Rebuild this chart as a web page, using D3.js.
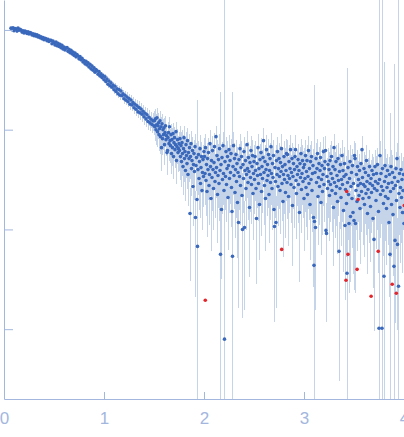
<!DOCTYPE html>
<html>
<head>
<meta charset="utf-8">
<script src="https://cdn.jsdelivr.net/npm/d3@7"></script>
<style>
  body { margin: 0; background: #fff; }
  svg { display: block; }
  .axis path, .axis line { stroke: #a3b7de; }
  .axis text { fill: #a3b7de; font-family: "Liberation Sans", Arial, sans-serif; font-size: 17px; }
</style>
</head>
<body>
<div id="chart"></div>
<script>
// scattering curve, q in nm^-1, intensity as log10(I)
var q = [
  0.07,0.08,0.09,0.1,0.11,0.12,0.13,0.14,0.15,0.16,
  0.17,0.18,0.19,0.2,0.21,0.22,0.23,0.24,0.25,0.26,
  0.27,0.28,0.29,0.3,0.31,0.32,0.33,0.34,0.35,0.36,
  0.37,0.38,0.39,0.4,0.41,0.42,0.43,0.44,0.45,0.46,
  0.47,0.48,0.49,0.5,0.51,0.52,0.53,0.54,0.55,0.56,
  0.57,0.58,0.59,0.6,0.61,0.62,0.63,0.64,0.65,0.66,
  0.67,0.68,0.69,0.7,0.71,0.72,0.73,0.74,0.75,0.76,
  0.77,0.78,0.79,0.8,0.81,0.82,0.83,0.84,0.85,0.86,
  0.87,0.88,0.89,0.9,0.91,0.92,0.93,0.94,0.95,0.96,
  0.97,0.98,0.99,1,1.01,1.02,1.03,1.04,1.05,1.06,
  1.07,1.08,1.09,1.1,1.11,1.12,1.13,1.14,1.15,1.16,
  1.17,1.18,1.19,1.2,1.21,1.22,1.23,1.24,1.25,1.26,
  1.27,1.28,1.29,1.3,1.31,1.32,1.33,1.34,1.35,1.36,
  1.37,1.38,1.39,1.4,1.41,1.42,1.43,1.44,1.45,1.46,
  1.47,1.48,1.49,1.5,
  1.505,1.51,1.515,1.52,1.525,1.53,1.535,1.54,1.545,1.55,
  1.555,1.56,1.565,1.57,1.575,1.58,1.585,1.59,1.595,1.6,
  1.605,1.61,1.615,1.62,1.625,1.63,1.635,1.64,1.645,1.65,
  1.655,1.66,1.665,1.67,1.675,1.68,1.685,1.69,1.695,1.7,
  1.705,1.71,1.715,1.72,1.725,1.73,1.735,1.74,1.745,1.75,
  1.755,1.76,1.765,1.77,1.775,1.78,1.785,1.79,1.795,1.8,
  1.805,1.81,1.815,1.82,1.825,1.83,1.835,1.84,1.845,1.85,
  1.855,1.86,1.865,1.87,1.875,1.88,1.885,1.89,1.895,1.9,
  1.905,1.91,1.915,1.92,1.925,1.93,1.935,1.94,1.945,1.95,
  1.955,1.96,1.965,1.97,1.975,1.98,1.985,1.99,1.995,2,
  2.005,2.01,2.015,2.02,2.025,2.03,2.035,2.04,2.045,2.05,
  2.055,2.06,2.065,2.07,2.075,2.08,2.085,2.09,2.095,2.1,
  2.105,2.11,2.115,2.12,2.125,2.13,2.135,2.14,2.145,2.15,
  2.155,2.16,2.165,2.17,2.175,2.18,2.185,2.19,2.195,2.2,
  2.205,2.21,2.215,2.22,2.225,2.23,2.235,2.24,2.245,2.25,
  2.255,2.26,2.265,2.27,2.275,2.28,2.285,2.29,2.295,2.3,
  2.305,2.31,2.315,2.32,2.325,2.33,2.335,2.34,2.345,2.35,
  2.355,2.36,2.365,2.37,2.375,2.38,2.385,2.39,2.395,2.4,
  2.405,2.41,2.415,2.42,2.425,2.43,2.435,2.44,2.445,2.45,
  2.455,2.46,2.465,2.47,2.475,2.48,2.485,2.49,2.495,2.5,
  2.505,2.51,2.515,2.52,2.525,2.53,2.535,2.54,2.545,2.55,
  2.555,2.56,2.565,2.57,2.575,2.58,2.585,2.59,2.595,2.6,
  2.605,2.61,2.615,2.62,2.625,2.63,2.635,2.64,2.645,2.65,
  2.655,2.66,2.665,2.67,2.675,2.68,2.685,2.69,2.695,2.7,
  2.705,2.71,2.715,2.72,2.725,2.73,2.735,2.74,2.745,2.75,
  2.755,2.76,2.765,2.77,2.775,2.78,2.785,2.79,2.795,2.8,
  2.805,2.81,2.815,2.82,2.825,2.83,2.835,2.84,2.845,2.85,
  2.855,2.86,2.865,2.87,2.875,2.88,2.885,2.89,2.895,2.9,
  2.905,2.91,2.915,2.92,2.925,2.93,2.935,2.94,2.945,2.95,
  2.955,2.96,2.965,2.97,2.975,2.98,2.985,2.99,2.995,3,
  3.005,3.01,3.015,3.02,3.025,3.03,3.035,3.04,3.045,3.05,
  3.055,3.06,3.065,3.07,3.075,3.08,3.085,3.09,3.095,3.1,
  3.105,3.11,3.115,3.12,3.125,3.13,3.135,3.14,3.145,3.15,
  3.155,3.16,3.165,3.17,3.175,3.18,3.185,3.19,3.195,3.2,
  3.205,3.21,3.215,3.22,3.225,3.23,3.235,3.24,3.245,3.25,
  3.255,3.26,3.265,3.27,3.275,3.28,3.285,3.29,3.295,3.3,
  3.305,3.31,3.315,3.32,3.325,3.33,3.335,3.34,3.345,3.35,
  3.355,3.36,3.365,3.37,3.375,3.38,3.385,3.39,3.395,3.4,
  3.405,3.41,3.415,3.42,3.425,3.43,3.435,3.44,3.445,3.45,
  3.455,3.46,3.465,3.47,3.475,3.48,3.485,3.49,3.495,3.5,
  3.505,3.51,3.515,3.52,3.525,3.53,3.535,3.54,3.545,3.55,
  3.555,3.56,3.565,3.57,3.575,3.58,3.585,3.59,3.595,3.6,
  3.605,3.61,3.615,3.62,3.625,3.63,3.635,3.64,3.645,3.65,
  3.655,3.66,3.665,3.67,3.675,3.68,3.685,3.69,3.695,3.7,
  3.705,3.71,3.715,3.72,3.725,3.73,3.735,3.74,3.745,3.75,
  3.755,3.76,3.765,3.77,3.775,3.78,3.785,3.79,3.795,3.8,
  3.805,3.81,3.815,3.82,3.825,3.83,3.835,3.84,3.845,3.85,
  3.855,3.86,3.865,3.87,3.875,3.88,3.885,3.89,3.895,3.9,
  3.905,3.91,3.915,3.92,3.925,3.93,3.935,3.94,3.945,3.95,
  3.955,3.96,3.965,3.97,3.975,3.98,3.985,3.99,3.995,4
];

var logI = [
  0.018,0.002,0.022,-0.008,0.014,0.010,-0.012,0.020,-0.004,0.006,
  -0.002,-0.022,-0.008,-0.030,-0.012,-0.020,-0.036,-0.018,-0.040,-0.026,
  -0.032,-0.050,-0.038,-0.058,-0.045,-0.062,-0.050,-0.070,-0.060,-0.078,
  -0.068,-0.088,-0.076,-0.098,-0.084,-0.090,-0.108,-0.095,-0.115,-0.104,
  -0.105,-0.138,-0.112,-0.128,-0.150,-0.122,-0.158,-0.135,-0.165,-0.145,
  -0.178,-0.155,-0.190,-0.172,-0.200,-0.182,-0.176,-0.215,-0.195,-0.228,
  -0.205,-0.240,-0.222,-0.255,-0.232,-0.270,-0.248,-0.262,-0.290,-0.268,
  -0.300,-0.285,-0.322,-0.308,-0.340,-0.315,-0.352,-0.330,-0.372,-0.345,
  -0.390,-0.362,-0.405,-0.380,-0.425,-0.398,-0.410,-0.445,-0.418,-0.462,
  -0.440,-0.478,-0.458,-0.500,-0.470,-0.518,-0.492,-0.545,-0.512,-0.560,
  -0.530,-0.575,-0.552,-0.600,-0.565,-0.618,-0.590,-0.640,-0.598,-0.655,
  -0.612,-0.660,-0.640,-0.690,-0.655,-0.705,-0.672,-0.720,-0.688,-0.745,
  -0.702,-0.752,-0.728,-0.780,-0.745,-0.795,-0.760,-0.822,-0.778,-0.830,
  -0.792,-0.845,-0.815,-0.870,-0.835,-0.892,-0.850,-0.918,-0.875,-0.932,
  -0.895,-0.948,-0.912,-0.962,
  -0.91,-0.97,-0.89,-1.00,-0.95,-0.88,-1.02,-0.96,-0.93,-1.05,
  -0.99,-0.91,-1.07,-0.97,-1.18,-0.94,-1.09,-1.00,-1.05,-0.98,
  -1.15,-1.03,-0.96,-1.10,-1.06,-1.23,-1.21,-1.08,-1.03,-1.14,
  -0.97,-1.11,-1.16,-1.05,-1.24,-1.10,-1.18,-1.04,-1.27,-1.13,
  -1.08,-1.20,-1.15,-1.02,-1.31,-1.17,-1.10,-1.23,-1.19,-1.14,
  -1.21,-1.09,-1.27,-1.16,-1.32,-1.13,-1.24,-1.37,-1.19,-1.08,
  -1.29,-1.22,-1.41,-1.15,-1.26,-1.34,-1.11,-1.45,-1.23,-1.29,
  -1.18,-1.84,-1.27,-1.14,-1.39,-1.31,-1.21,-1.57,-1.35,-1.24,
  -1.42,-1.17,-1.88,-1.36,-1.28,-1.70,-2.17,-1.40,-1.25,-1.49,
  -1.32,-1.19,-1.54,-1.38,-1.27,-1.61,-1.43,-1.30,-1.47,-1.22,
  -1.27,-1.44,-1.18,-1.51,-1.35,-1.62,-1.29,-1.40,-1.23,-1.56,
  -1.45,-1.14,-1.37,-1.69,-1.31,-1.48,-1.21,-1.40,-1.59,-1.33,
  -1.17,-1.52,-1.43,-1.07,-1.38,-1.26,-1.65,-1.46,-1.30,-1.54,
  -1.19,-1.41,-2.25,-1.35,-1.80,-1.28,-1.50,-1.16,-1.44,-1.61,
  -3.10,-1.32,-1.47,-1.22,-1.55,-1.39,-1.27,-1.68,-1.36,-1.20,
  -1.49,-1.31,-1.43,-1.24,-1.58,-1.82,-2.27,-1.37,-1.16,-1.46,
  -1.29,-1.63,-1.40,-1.25,-1.52,-1.34,-1.73,-1.43,-1.93,-1.30,
  -1.47,-1.19,-1.56,-1.38,-1.27,-1.66,-2.00,-1.35,-1.49,-1.22,
  -1.98,-1.41,-1.31,-1.59,-1.45,-1.15,-1.39,-1.53,-1.28,-1.42,
  -1.78,-1.33,-1.48,-1.21,-1.55,-1.37,-1.26,-1.64,-1.44,-1.32,
  -1.50,-1.27,-1.41,-1.59,-1.89,-1.34,-1.46,-1.18,-1.54,-1.39,
  -1.75,-1.30,-1.45,-1.23,-1.62,-1.37,-1.49,-1.28,-1.11,-1.43,
  -1.56,-1.32,-1.69,-1.40,-1.20,-1.51,-1.35,-1.46,-1.25,-1.65,
  -1.41,-1.29,-1.53,-1.17,-1.44,-1.59,-1.34,-1.48,-1.26,-1.80,
  -1.97,-1.38,-1.52,-1.93,-1.31,-1.45,-1.22,-1.57,-1.39,-1.29,
  -1.47,-1.61,-1.33,-1.42,-1.19,-1.54,-1.37,-1.72,-1.45,-1.27,
  -1.50,-1.35,-1.63,-1.41,-1.24,-1.53,-1.25,-1.46,-1.67,-1.32,
  -1.49,-1.39,-1.20,-1.55,-1.43,-1.29,-1.76,-1.47,-1.34,-1.58,
  -1.40,-1.27,-1.20,-1.51,-1.64,-1.37,-1.45,-1.30,-1.55,-1.41,
  -1.83,-1.34,-1.48,-1.24,-1.60,-1.44,-1.31,-1.52,-1.38,-1.69,
  -1.35,-1.49,-1.26,-1.58,-1.42,-1.31,-1.65,-1.47,-1.21,-1.54,
  -1.39,-1.75,-1.32,-1.50,-1.27,-1.61,-1.44,-1.36,-1.88,-2.36,
  -1.92,-1.43,-1.98,-1.29,-1.53,-1.39,-1.24,-1.67,-1.48,-1.34,
  -1.57,-1.41,-1.28,-1.73,-1.50,-1.36,-1.62,-1.45,-1.22,-1.55,
  -1.39,-1.32,-1.21,-2.01,-2.04,-1.47,-1.59,-1.35,-1.52,-1.40,
  -1.66,-1.31,-1.55,-1.44,-1.27,-1.61,-1.49,-1.37,-1.78,-1.18,
  -1.53,-1.40,-1.64,-1.32,-1.57,-1.46,-1.72,-1.29,-1.51,-2.22,
  -1.42,-1.59,-1.35,-1.68,-1.50,-1.26,-1.55,-1.41,-1.81,-1.47,
  -1.34,-1.96,-1.60,-1.45,-1.74,-2.44,-1.53,-1.38,-1.65,-1.94,
  -1.49,-1.32,-1.87,-1.57,-1.43,-1.69,-1.36,-1.83,-1.54,-1.91,
  -1.26,-1.29,-1.94,-1.61,-1.45,-1.72,-1.37,-1.56,-1.50,-1.66,
  -1.41,-1.79,-1.54,-1.34,-1.62,-1.20,-1.48,-1.69,-1.55,-1.39,
  -1.75,-1.57,-1.43,-1.64,-1.31,-1.52,-1.84,-1.60,-1.46,-1.68,
  -1.37,-1.54,-1.77,-1.49,-1.63,-1.41,-1.56,-1.89,-1.45,-2.10,
  -1.59,-1.37,-1.52,-1.71,-1.44,-1.61,-1.35,-1.54,-1.82,-2.99,
  -1.50,-1.26,-1.65,-1.44,-1.57,-2.99,-1.39,-1.61,-1.74,-2.47,
  -1.52,-1.36,-1.67,-1.47,-1.79,-1.58,-1.41,-1.69,-1.54,-1.93,
  -1.45,-2.25,-1.62,-1.37,-1.75,-1.53,-1.43,-1.85,-1.59,-2.37,
  -1.48,-2.11,-1.56,-1.39,-1.71,-1.29,-2.15,-1.52,-2.57,-1.64,
  -1.44,-1.78,-1.58,-1.40,-1.68,-1.50,-1.83,-1.61,-1.45,-1.94
];

// error as a fraction of I (>= 1 means the bar runs off the bottom)
var relErr = [
  0.01,0.01,0.01,0.01,0.01,0.01,0.01,0.01,0.01,0.01,
  0.01,0.01,0.01,0.01,0.01,0.01,0.01,0.01,0.01,0.01,
  0.01,0.01,0.01,0.012,0.01,0.012,0.01,0.012,0.012,0.012,
  0.012,0.012,0.014,0.015,0.014,0.015,0.016,0.015,0.015,0.016,
  0.016,0.015,0.017,0.02,0.018,0.02,0.02,0.021,0.02,0.02,
  0.02,0.022,0.02,0.021,0.022,0.02,0.023,0.022,0.022,0.024,
  0.024,0.025,0.024,0.03,0.028,0.03,0.03,0.032,0.03,0.03,
  0.032,0.03,0.033,0.03,0.034,0.035,0.034,0.036,0.035,0.038,
  0.038,0.04,0.04,0.05,0.045,0.05,0.05,0.052,0.05,0.055,
  0.05,0.055,0.056,0.07,0.065,0.07,0.07,0.072,0.07,0.075,
  0.075,0.07,0.08,0.09,0.085,0.09,0.09,0.095,0.09,0.1,
  0.095,0.1,0.1,0.11,0.105,0.11,0.115,0.11,0.12,0.12,
  0.12,0.125,0.13,0.14,0.135,0.14,0.15,0.14,0.15,0.155,
  0.15,0.16,0.16,0.17,0.165,0.17,0.18,0.17,0.18,0.18,
  0.19,0.18,0.2,0.19,
  0.25,0.28,0.24,0.3,0.27,0.24,0.3,0.27,0.26,0.32,
  0.28,0.24,0.33,0.26,0.42,0.24,0.32,0.27,0.3,0.26,
  0.38,0.28,0.24,0.32,0.28,0.4,0.38,0.3,0.27,0.33,
  0.24,0.3,0.33,0.27,0.38,0.3,0.34,0.27,0.4,0.31,
  0.28,0.35,0.32,0.26,0.42,0.33,0.29,0.36,0.34,0.31,
  0.38,0.33,0.42,0.36,0.45,0.34,0.4,0.48,0.37,0.32,
  0.42,0.38,0.5,0.35,0.4,0.45,0.33,0.52,0.38,0.42,
  0.36,0.79,0.4,0.34,0.47,0.42,0.37,0.6,0.44,0.38,
  0.48,0.35,0.84,0.44,0.4,0.75,28.5,0.45,0.38,0.52,
  0.42,0.36,0.55,0.44,0.4,0.6,0.47,0.41,0.5,0.37,
  0.42,0.52,0.38,0.56,0.48,0.65,0.44,0.5,0.4,0.6,
  0.53,0.36,0.49,0.7,0.45,0.54,0.4,0.5,0.62,0.47,
  0.38,0.57,0.52,0.29,0.5,0.43,0.67,0.53,0.45,0.58,
  0.39,0.51,41,0.48,0.8,0.44,0.55,0.37,0.52,0.63,
  3000,0.46,0.54,0.41,0.58,0.5,0.43,0.7,0.49,0.4,
  0.55,0.45,0.52,0.4,0.6,0.8,43.7,0.48,0.36,0.54,
  0.44,0.65,0.5,0.41,0.57,0.47,0.72,0.52,0.86,0.44,
  0.54,0.39,0.6,0.49,0.42,0.68,0.87,0.47,0.55,0.4,
  0.85,0.5,0.45,0.62,0.53,0.36,0.49,0.58,0.43,0.51,
  0.8,0.46,0.55,0.4,0.6,0.48,0.42,0.66,0.52,0.45,
  0.55,0.43,0.5,0.62,0.78,0.47,0.53,0.38,0.58,0.49,
  0.72,0.44,0.52,0.41,0.64,0.48,0.55,0.43,0.33,0.51,
  0.6,0.46,0.7,0.5,0.39,0.56,0.47,0.53,0.42,0.67,
  0.5,0.44,0.58,0.37,0.52,0.62,0.47,0.54,0.42,0.76,
  0.89,0.49,0.57,0.86,0.45,0.52,0.4,0.6,0.5,0.44,
  0.53,0.63,0.46,0.5,0.39,0.58,0.48,0.72,0.52,0.43,
  0.55,0.47,0.65,0.5,0.41,0.57,0.41,0.53,0.68,0.45,
  0.55,0.49,0.39,0.59,0.51,0.44,0.75,0.53,0.46,0.61,
  0.5,0.43,0.39,0.56,0.65,0.48,0.52,0.44,0.59,0.5,
  0.8,0.46,0.54,0.41,0.63,0.52,0.45,0.57,0.48,0.7,
  0.46,0.54,0.42,0.6,0.5,0.45,0.65,0.53,0.39,0.57,
  0.49,0.72,0.45,0.55,0.42,0.62,0.51,0.47,0.8,63.6,
  0.82,0.51,0.85,0.44,0.57,0.49,0.4,0.67,0.54,0.46,
  0.59,0.5,0.43,0.7,0.55,0.47,0.63,0.52,0.39,0.58,
  0.49,0.45,0.39,0.88,0.87,0.53,0.61,0.47,0.57,0.5,
  0.65,0.45,0.58,0.52,0.42,0.62,0.55,0.48,0.74,0.38,
  0.57,0.5,0.64,0.45,0.6,0.53,0.7,0.44,0.56,0.95,
  0.51,0.61,0.47,0.67,0.55,0.42,0.58,0.5,0.76,0.53,
  0.47,0.82,0.62,0.52,0.71,114,0.57,0.49,0.65,0.8,
  0.55,0.45,0.78,0.6,0.51,0.68,0.48,0.76,0.58,0.8,
  0.4,0.42,0.8,0.6,0.5,0.68,0.46,0.57,0.53,0.64,
  0.48,0.72,0.56,0.44,0.61,0.38,0.52,0.66,0.57,0.47,
  0.7,0.58,0.5,0.62,0.43,0.55,0.75,0.6,0.51,0.65,
  0.46,0.56,0.72,0.53,0.61,0.48,0.57,0.8,0.5,0.88,
  0.59,0.46,0.55,0.67,0.5,0.6,0.45,0.56,0.76,3000,
  0.53,0.4,0.63,0.5,0.58,3000,0.47,0.6,0.7,140,
  0.55,0.45,0.64,0.52,0.73,0.58,0.48,0.66,0.56,0.82,
  0.51,25,0.61,0.46,0.7,0.55,0.5,0.76,0.59,106,
  0.53,0.85,0.57,0.47,0.67,0.42,0.86,0.55,3000,0.62,
  0.5,0.72,0.58,0.48,0.65,0.53,0.75,0.6,0.51,0.8
];

// points flagged as outliers (drawn red)
var outQ    = [2.013, 2.777, 3.420, 3.427, 3.440, 3.531, 3.541, 3.671, 3.742, 3.882, 3.923, 4.003];
var outLogI = [-2.71, -2.20, -2.51, -1.62, -2.25, -2.40, -1.70, -2.67, -2.22, -2.55, -2.64, -1.76];

var xTicks = [0, 1, 2, 3, 4];
var yTicks = [1, 0.1, 0.01, 0.001];

var W = 404, H = 437;
var plotLeft = 4, plotBottom = 399;

var svg = d3.select('#chart').append('svg')
    .attr('width', W)
    .attr('height', H);

var x = d3.scaleLinear().domain([0, 4]).range([plotLeft, 404]);
var y = d3.scaleLog()
    .domain([Math.pow(10, -3.70), Math.pow(10, 0.30)])
    .range([plotBottom, 0])
    .clamp(true);

var pts = q.map(function(v, i) {
    return { q: v, I: Math.pow(10, logI[i]), r: relErr[i] };
});
var outs = outQ.map(function(v, i) {
    return { q: v, I: Math.pow(10, outLogI[i]) };
});

// error bars first, dots on top
svg.append('g')
    .attr('stroke', '#c6d4ea')
    .attr('stroke-width', 1)
    .attr('shape-rendering', 'crispEdges')
  .selectAll('line')
  .data(pts)
  .join('line')
    .attr('x1', function(d) { return x(d.q); })
    .attr('x2', function(d) { return x(d.q); })
    .attr('y1', function(d) { return y(d.I * (1 + d.r)); })
    .attr('y2', function(d) { return d.r >= 1 ? plotBottom : y(d.I * (1 - d.r)); });

svg.append('g')
    .attr('fill', '#3a68bb')
  .selectAll('circle')
  .data(pts)
  .join('circle')
    .attr('cx', function(d) { return x(d.q); })
    .attr('cy', function(d) { return y(d.I); })
    .attr('r', 1.8);

svg.append('g')
    .attr('fill', '#e3262b')
  .selectAll('circle')
  .data(outs)
  .join('circle')
    .attr('cx', function(d) { return x(d.q); })
    .attr('cy', function(d) { return y(d.I); })
    .attr('r', 1.8);

// axes: ticks point inward, no y labels
svg.append('g')
    .attr('class', 'axis')
    .attr('transform', 'translate(0,' + plotBottom + ')')
    .call(d3.axisBottom(x)
        .tickValues(xTicks)
        .tickFormat(d3.format('d'))
        .tickSizeInner(-7)
        .tickSizeOuter(0)
        .tickPadding(13));

svg.append('g')
    .attr('class', 'axis')
    .attr('transform', 'translate(' + plotLeft + ',0)')
    .call(d3.axisLeft(y)
        .tickValues(yTicks)
        .tickFormat('')
        .tickSizeInner(-9)
        .tickSizeOuter(0));

svg.selectAll('.axis .domain').attr('stroke', '#a3b7de');
</script>
</body>
</html>
